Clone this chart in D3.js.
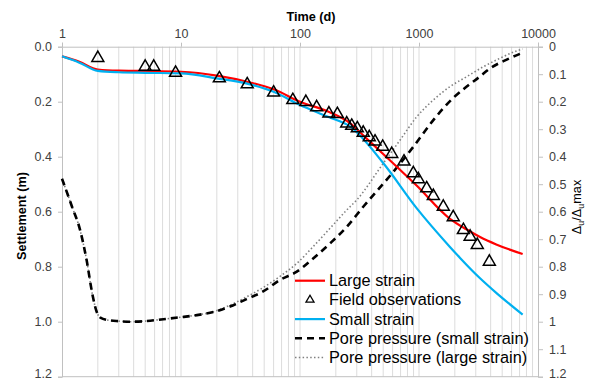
<!DOCTYPE html>
<html>
<head>
<meta charset="utf-8">
<script src="https://cdn.jsdelivr.net/npm/d3@7"></script>
<style>
  body { margin: 0; background: white; }
  svg { display: block; font-family: "Liberation Sans", Arial, sans-serif; }
</style>
</head>
<body>
<div class="chart"></div>
<script>
// time ticks (top axis)
const timeTicks = [1, 10, 100, 1000, 10000];
const settleTicks = [0, 0.2, 0.4, 0.6, 0.8, 1.0, 1.2];
const poreTicks = [0, 0.1, 0.2, 0.3, 0.4, 0.5, 0.6, 0.7, 0.8, 0.9, 1, 1.1, 1.2];

// settlement, large strain (m)
const largeT = [1, 1.4, 2, 3, 5, 10, 20, 38, 60, 100, 172, 263, 350, 500, 955, 1820, 2500, 3258, 4457, 7430];
const largeS = [0.035, 0.055, 0.083, 0.087, 0.088, 0.091, 0.105, 0.13, 0.155, 0.2, 0.236, 0.278, 0.328, 0.39, 0.505, 0.626, 0.664, 0.692, 0.719, 0.754];

// settlement, small strain (m)
const smallT = [1, 1.4, 2, 3, 5, 10, 20, 38, 60, 100, 172, 263, 500, 955, 1820, 2213, 3258, 4457, 7430];
const smallS = [0.035, 0.058, 0.088, 0.093, 0.095, 0.097, 0.115, 0.137, 0.164, 0.212, 0.255, 0.29, 0.423, 0.587, 0.728, 0.768, 0.842, 0.895, 0.974];

// field observations
const obsT = [2.0, 5.0, 5.9, 9.0, 21, 36, 60, 87, 112, 138, 175, 206, 247, 272, 303, 340, 382, 427, 495, 590, 748, 896, 987, 1160, 1320, 1600, 1940, 2360, 2690, 3090, 3900];
const obsS = [0.041, 0.073, 0.073, 0.095, 0.115, 0.137, 0.167, 0.194, 0.201, 0.220, 0.243, 0.245, 0.279, 0.288, 0.297, 0.313, 0.329, 0.345, 0.364, 0.390, 0.418, 0.460, 0.482, 0.515, 0.543, 0.582, 0.620, 0.667, 0.691, 0.721, 0.782];

// pore pressure ratio, small strain
const poreSmallT = [1, 1.21, 1.42, 1.61, 1.8, 1.96, 2.1, 2.5, 3.0, 3.7, 5, 7.1, 9.8, 13.6, 19, 25.8, 35.5, 49, 68, 94, 129, 179, 247, 340, 608, 896, 1319, 1942, 2518, 3258, 3953, 5458, 7430];
const poreSmallU = [0.48, 0.58, 0.667, 0.776, 0.9, 0.965, 0.985, 0.995, 0.998, 1.0, 0.998, 0.991, 0.984, 0.976, 0.964, 0.945, 0.918, 0.89, 0.848, 0.818, 0.77, 0.715, 0.655, 0.582, 0.455, 0.364, 0.267, 0.186, 0.145, 0.108, 0.079, 0.047, 0.022];

// pore pressure ratio, large strain
const poreLargeT = [1, 1.21, 1.42, 1.61, 1.8, 1.96, 2.1, 2.5, 3.0, 3.7, 5, 7.1, 9.8, 13.6, 19, 25.8, 35.5, 49, 68, 94, 129, 179, 247, 300, 501, 692, 957, 1319, 1822, 2518, 3469, 4795, 6624, 7430];
const poreLargeU = [0.48, 0.58, 0.667, 0.776, 0.9, 0.965, 0.985, 0.995, 0.998, 1.0, 0.998, 0.991, 0.984, 0.976, 0.963, 0.94, 0.91, 0.876, 0.835, 0.788, 0.727, 0.66, 0.594, 0.557, 0.424, 0.34, 0.255, 0.194, 0.145, 0.109, 0.073, 0.042, 0.015, 0.008];

const w = 590;
const h = 381;
const padL = 62, padR = 538, padT = 46.7, padB = 376.7;

const svg = d3.select('.chart').append('svg').attr('width', w).attr('height', h).style('background-color', 'white');

const x = d3.scaleLog().domain([1, 10000]).range([padL, padR]);
const y = d3.scaleLinear().domain([0, 1.2]).range([padT, padB]);
const y2 = d3.scaleLinear().domain([0, 1.2]).range([padT, padB]);

// vertical grid lines (major + minor)
const gridVals = [];
for (let k = 0; k < 4; k++) for (let m = 1; m < 10; m++) gridVals.push(m * Math.pow(10, k));
svg.append('g').selectAll('line').data(gridVals.filter(d => d > 1)).enter().append('line')
  .attr('x1', d => x(d)).attr('x2', d => x(d)).attr('y1', padT).attr('y2', padB)
  .attr('stroke', '#dcdcdc').attr('stroke-width', 1);

// axes
const axisColor = '#c0c0c0';
const topAxis = svg.append('g').attr('transform', `translate(0, ${padT})`)
  .call(d3.axisTop(x).tickValues(timeTicks).tickFormat(d3.format('d')).tickSize(4).tickPadding(5));
const leftAxis = svg.append('g').attr('transform', `translate(${padL}, 0)`)
  .call(d3.axisLeft(y).tickValues(settleTicks).tickFormat(d3.format('.1f')).tickSize(4).tickPadding(6));
const rightAxis = svg.append('g').attr('transform', `translate(${padR}, 0)`)
  .call(d3.axisRight(y2).tickValues(poreTicks).tickFormat(d => d3.format('~g')(d)).tickSize(5).tickPadding(6));
svg.append('line').attr('x1', padL).attr('x2', padR).attr('y1', padB).attr('y2', padB).attr('stroke', axisColor);

[topAxis, leftAxis, rightAxis].forEach(a => {
  a.select('.domain').attr('stroke', axisColor);
  a.selectAll('.tick line').attr('stroke', axisColor);
  a.selectAll('.tick text').attr('fill', '#404040').style('font-size', '12.5px');
});
// keep the bottom labels inside the picture
[leftAxis, rightAxis].forEach(a => a.selectAll('.tick text').filter(d => d === 1.2).attr('dy', '0.1em'));

// titles
svg.append('text').attr('x', 311).attr('y', 21).attr('text-anchor', 'middle')
  .style('font-size', '12.7px').style('font-weight', 'bold').text('Time (d)');
svg.append('text').attr('transform', 'translate(26, 216) rotate(-90)').attr('text-anchor', 'middle')
  .style('font-size', '12.7px').style('font-weight', 'bold').text('Settlement (m)');
const rt = svg.append('text').attr('transform', 'translate(581, 207) rotate(-90)').attr('text-anchor', 'middle')
  .style('font-size', '12.7px');
rt.append('tspan').text('Δ');
rt.append('tspan').attr('dy', 3).style('font-size', '9px').text('u');
rt.append('tspan').attr('dy', -3).text('/Δ');
rt.append('tspan').attr('dy', 3).style('font-size', '9px').text('u');
rt.append('tspan').attr('dy', -3).text('max');

const line = d3.line().x(d => x(d[0])).curve(d3.curveMonotoneX);

// pore pressure curves
svg.append('path').datum(d3.zip(poreLargeT, poreLargeU)).attr('d', line.y(d => y2(d[1])))
  .attr('fill', 'none').attr('stroke', '#808080').attr('stroke-width', 1.6).attr('stroke-dasharray', '1.5,2.3');
svg.append('path').datum(d3.zip(poreSmallT, poreSmallU)).attr('d', line.y(d => y2(d[1])))
  .attr('fill', 'none').attr('stroke', '#000').attr('stroke-width', 2.6).attr('stroke-dasharray', '7,5');

// settlement curves
svg.append('path').datum(d3.zip(largeT, largeS)).attr('d', line.y(d => y(d[1])))
  .attr('fill', 'none').attr('stroke', '#ff0000').attr('stroke-width', 2.2);
svg.append('path').datum(d3.zip(smallT, smallS)).attr('d', line.y(d => y(d[1])))
  .attr('fill', 'none').attr('stroke', '#00b0f0').attr('stroke-width', 2.2);

// field observations
const tri = d3.symbol().type(d3.symbolTriangle).size(62);
svg.append('g').selectAll('path').data(d3.zip(obsT, obsS)).enter().append('path')
  .attr('d', tri).attr('transform', d => `translate(${x(d[0])}, ${y(d[1])})`)
  .attr('fill', 'none').attr('stroke', '#000').attr('stroke-width', 1.5);

// legend
const legend = svg.append('g').attr('transform', 'translate(295, 280.7)');
const items = [
  { label: 'Large strain', type: 'line', stroke: '#ff0000', width: 2.2, dash: null },
  { label: 'Field observations', type: 'tri' },
  { label: 'Small strain', type: 'line', stroke: '#00b0f0', width: 2.2, dash: null },
  { label: 'Pore pressure (small strain)', type: 'line', stroke: '#000', width: 2.6, dash: '7,5' },
  { label: 'Pore pressure (large strain)', type: 'line', stroke: '#808080', width: 1.6, dash: '1.5,2.3' }
];
const row = legend.selectAll('g').data(items).enter().append('g')
  .attr('transform', (d, i) => `translate(0, ${i * 19.2})`);
row.filter(d => d.type === 'line').append('line')
  .attr('x1', 0).attr('x2', 30).attr('y1', 0).attr('y2', 0)
  .attr('stroke', d => d.stroke).attr('stroke-width', d => d.width).attr('stroke-dasharray', d => d.dash);
row.filter(d => d.type === 'tri').append('path')
  .attr('d', d3.symbol().type(d3.symbolTriangle).size(28)).attr('transform', 'translate(15, 0)')
  .attr('fill', 'none').attr('stroke', '#000').attr('stroke-width', 1.3);
row.append('text').attr('x', 34).attr('y', 5.5).style('font-size', '16.3px').attr('fill', '#000').text(d => d.label);
</script>
</body>
</html>
